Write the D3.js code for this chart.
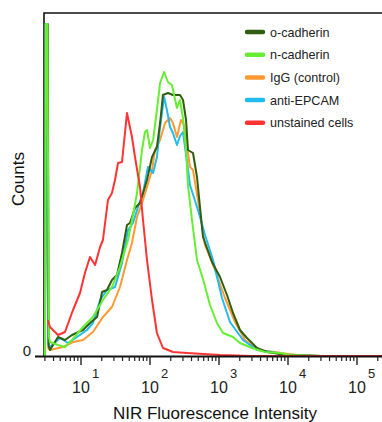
<!DOCTYPE html>
<html>
<head>
<meta charset="utf-8">
<script src="https://cdn.jsdelivr.net/npm/d3@7"></script>
<style>
  html, body { margin: 0; padding: 0; background: #fff; }
  svg { display: block; font-family: Arial, "Liberation Sans", sans-serif; }
</style>
</head>
<body>
<svg id="chart" width="382" height="422"></svg>
<script>
// legend order
const seriesNames = ["o-cadherin", "n-cadherin", "IgG (control)", "anti-EPCAM", "unstained cells"];
const seriesColors = ["#2f5e10", "#66ee33", "#ff9933", "#22bbee", "#ff3333"];

// [intensity, counts] (first bins pile up on the left edge)
const oCadherin = [[3.0, 0], [3.08, 332], [3.3, 332], [3.4, 10], [3.55, 6], [4.64, 19], [5.86, 16], [7.4, 21], [10.7, 26], [13.5, 33],
  [17.1, 39], [20.2, 64], [23.8, 66], [28.1, 76], [33.2, 81], [39.3, 103], [46.4, 131], [51.3, 133], [60.6, 148],
  [71.6, 153], [90.5, 176], [107, 199], [126, 209], [140, 233], [154, 261], [182, 263], [215, 261], [272, 261],
  [301, 256], [333, 236], [355, 206], [420, 203], [480, 179], [586, 119], [792, 94], [1034, 79], [1306, 61],
  [1596, 43], [2015, 26], [2545, 18], [3554, 8], [4963, 4], [7659, 2], [10690, 1], [30000, 0], [400000, 0]];

const nCadherin = [[3.0, 0], [3.1, 332], [3.25, 332], [3.42, 20], [3.55, 14], [4.64, 11], [5.86, 9], [7.4, 16], [10.7, 29], [14.9, 39],
  [20.8, 56], [28.1, 69], [36.7, 89], [48, 116], [58.6, 146], [64.8, 163], [76.6, 206], [84.6, 224], [90.5, 226],
  [100, 208], [111, 216], [126, 246], [140, 273], [160, 284], [182, 274], [208, 271], [246, 248], [272, 256],
  [301, 238], [333, 206], [355, 171], [406, 136], [480, 96], [586, 77], [740, 51], [935, 33], [1143, 23],
  [1596, 19], [2015, 13], [3008, 8], [4642, 4], [7659, 3], [10690, 1], [30000, 0], [400000, 0]];

const iggControl = [[3.0, 0], [3.06, 332], [3.36, 8], [3.55, 6], [5.48, 9], [7.66, 14], [10.7, 16], [14.9, 24], [20.8, 39],
  [28.1, 49], [36.7, 69], [46.4, 96], [54.8, 113], [64.8, 139], [76.6, 153], [90.5, 169], [107, 186], [118, 206],
  [140, 216], [165, 233], [195, 238], [215, 233], [246, 219], [281, 236], [311, 231], [355, 203], [380, 189],
  [420, 186], [496, 156], [627, 111], [875, 86], [1222, 58], [1706, 34], [2381, 16], [3675, 6], [6481, 4],
  [10000, 2], [13960, 1], [30000, 0], [400000, 0]];

const antiEpcam = [[3.0, 0], [3.06, 332], [3.36, 12], [3.55, 9], [4.96, 18], [6.48, 13], [8.75, 19], [12.2, 26], [14.9, 33],
  [18.9, 56], [23.8, 66], [31.1, 69], [39.3, 93], [48, 126], [56.7, 133], [67, 149], [79.2, 163], [93.5, 189],
  [111, 183], [126, 199], [140, 229], [160, 259], [176, 246], [195, 229], [215, 223], [246, 211], [272, 220],
  [301, 224], [344, 194], [380, 171], [496, 146], [627, 121], [819, 96], [1105, 58], [1443, 34], [2227, 16],
  [3554, 6], [5864, 4], [9045, 1], [30000, 0], [400000, 0]];

const unstained = [[3.3, 36], [3.55, 29], [4.64, 21], [5.86, 24], [7.66, 46], [9.67, 63], [11.4, 83], [13.5, 99],
  [16, 91], [18.9, 109], [20.8, 116], [24.6, 156], [28.1, 163], [31.1, 176], [34.4, 193], [39.3, 194], [46.4, 243],
  [54.8, 219], [60.6, 199], [71.6, 169], [79.2, 136], [90.5, 96], [107, 56], [126, 23], [154, 8], [215, 4],
  [344, 3], [1034, 1], [3000, 0], [400000, 0]];

const seriesData = [oCadherin, nCadherin, iggControl, antiEpcam, unstained];
const drawOrder = [2, 3, 0, 1, 4];

const decadeExponents = [1, 2, 3, 4, 5];
const yTickValues = [0];

const svg = d3.select("#chart");

const x = d3.scaleLog().domain([1, 1e5]).range([12, 357]);
const y = d3.scaleLinear().domain([0, 343]).range([356, 13]);

const plotLeft = 44, plotTop = 13, plotBottom = 356;

// frame (top + left)
svg.append("path")
  .attr("d", `M${plotLeft},${plotBottom} V${plotTop} H390`)
  .attr("fill", "none")
  .attr("stroke", "#111")
  .attr("stroke-width", 1.6);

// curves
const line = d3.line()
  .x(d => x(d[0]))
  .y(d => y(d[1]));

drawOrder.forEach(i => {
  svg.append("path")
    .datum(seriesData[i])
    .attr("d", line)
    .attr("fill", "none")
    .attr("stroke", seriesColors[i])
    .attr("stroke-width", 2)
    .attr("stroke-linejoin", "round");
});

// x axis line
svg.append("line")
  .attr("x1", 35).attr("x2", 390)
  .attr("y1", plotBottom + 0.5).attr("y2", plotBottom + 0.5)
  .attr("stroke", "#111").attr("stroke-width", 1.8);

// minor + major ticks
const minorTicks = [];
for (let e = 0; e <= 5; e++) {
  for (let m = 2; m <= 9; m++) {
    const v = m * Math.pow(10, e);
    if (v >= 3 && v <= 3e5) minorTicks.push(v);
  }
}
svg.selectAll(".minor").data(minorTicks).enter().append("line")
  .attr("x1", d => x(d)).attr("x2", d => x(d))
  .attr("y1", plotBottom).attr("y2", plotBottom + 5)
  .attr("stroke", "#222").attr("stroke-width", 1.2);

const majors = decadeExponents.map(e => Math.pow(10, e));
svg.selectAll(".major").data(majors).enter().append("line")
  .attr("x1", d => x(d)).attr("x2", d => x(d))
  .attr("y1", plotBottom).attr("y2", plotBottom + 9)
  .attr("stroke", "#222").attr("stroke-width", 1.4);

// tick labels 10^n
const lab = svg.selectAll(".xlab").data(decadeExponents).enter().append("g");
lab.append("text")
  .attr("x", d => x(Math.pow(10, d)))
  .attr("y", 393)
  .attr("text-anchor", "middle")
  .attr("font-size", 16)
  .attr("fill", "#222")
  .text("10");
lab.append("text")
  .attr("x", d => x(Math.pow(10, d)) + 11)
  .attr("y", 378)
  .attr("font-size", 13)
  .attr("fill", "#222")
  .text(d => d);

// y tick "0"
svg.selectAll(".ylab").data(yTickValues).enter().append("text")
  .attr("x", 31)
  .attr("y", d => y(d) - 0.5)
  .attr("text-anchor", "end")
  .attr("font-size", 15)
  .attr("fill", "#222")
  .text(d => d);

// axis titles
svg.append("text")
  .attr("x", 215).attr("y", 419)
  .attr("text-anchor", "middle")
  .attr("font-size", 17)
  .attr("fill", "#111")
  .text("NIR Fluorescence Intensity");

svg.append("text")
  .attr("transform", "translate(24,179) rotate(-90)")
  .attr("text-anchor", "middle")
  .attr("font-size", 17)
  .attr("fill", "#111")
  .text("Counts");

// legend
const leg = svg.selectAll(".leg").data(seriesNames).enter().append("g")
  .attr("transform", (d, i) => `translate(245,${32 + i * 22.7})`);
leg.append("line")
  .attr("x1", 2).attr("x2", 18)
  .attr("stroke", (d, i) => seriesColors[i])
  .attr("stroke-width", 4.5)
  .attr("stroke-linecap", "round");
leg.append("text")
  .attr("x", 25).attr("y", 4.5)
  .attr("font-size", 12.6)
  .attr("fill", "#222")
  .text(d => d);
</script>
</body>
</html>
